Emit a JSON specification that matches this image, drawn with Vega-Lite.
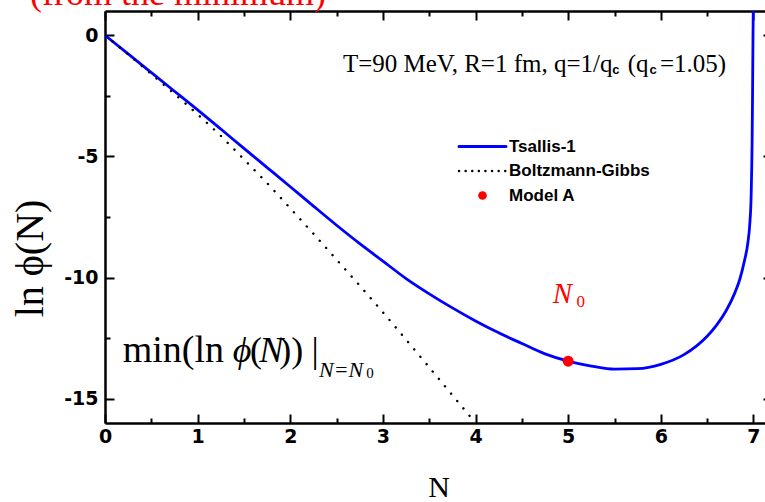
{
  "$schema": "https://vega.github.io/schema/vega-lite/v6.json",
  "width": 667,
  "height": 412,
  "autosize": {"type": "none"},
  "padding": {"left": 105, "top": 11, "right": 0, "bottom": 79},
  "background": "white",
  "config": {
    "view": {"stroke": null},
    "axis": {
      "domainColor": "black",
      "domainWidth": 2.5,
      "tickColor": "black",
      "tickWidth": 2,
      "grid": false,
      "labelFont": "DejaVu Sans",
      "labelFontWeight": "bold",
      "labelFontSize": 19,
      "labelColor": "black",
      "titleFont": "Liberation Serif",
      "titleFontWeight": "normal",
      "titleFontSize": 30,
      "titleColor": "black"
    },
    "legend": {
      "orient": "none",
      "legendX": 369,
      "legendY": 127,
      "padding": 0,
      "title": null,
      "labelFont": "Liberation Sans",
      "labelFontWeight": "bold",
      "labelFontSize": 17,
      "labelColor": "black",
      "labelOffset": 18,
      "symbolType": "stroke",
      "symbolSize": 2209,
      "rowPadding": 6.5
    }
  },
  "datasets": {
    "curves": [
      {"series": "Tsallis-1", "N": 0, "lnphi": 0},
      {"series": "Tsallis-1", "N": 0.25, "lnphi": -0.77},
      {"series": "Tsallis-1", "N": 0.5, "lnphi": -1.54},
      {"series": "Tsallis-1", "N": 0.75, "lnphi": -2.31},
      {"series": "Tsallis-1", "N": 1.0, "lnphi": -3.08},
      {"series": "Tsallis-1", "N": 1.25, "lnphi": -3.87},
      {"series": "Tsallis-1", "N": 1.5, "lnphi": -4.67},
      {"series": "Tsallis-1", "N": 1.75, "lnphi": -5.46},
      {"series": "Tsallis-1", "N": 2.0, "lnphi": -6.25},
      {"series": "Tsallis-1", "N": 2.25, "lnphi": -7.05},
      {"series": "Tsallis-1", "N": 2.5, "lnphi": -7.84},
      {"series": "Tsallis-1", "N": 2.75, "lnphi": -8.6},
      {"series": "Tsallis-1", "N": 3.0, "lnphi": -9.32},
      {"series": "Tsallis-1", "N": 3.25, "lnphi": -10.04},
      {"series": "Tsallis-1", "N": 3.5, "lnphi": -10.67},
      {"series": "Tsallis-1", "N": 3.75, "lnphi": -11.25},
      {"series": "Tsallis-1", "N": 4.0, "lnphi": -11.79},
      {"series": "Tsallis-1", "N": 4.25, "lnphi": -12.28},
      {"series": "Tsallis-1", "N": 4.5, "lnphi": -12.72},
      {"series": "Tsallis-1", "N": 4.75, "lnphi": -13.15},
      {"series": "Tsallis-1", "N": 5.0, "lnphi": -13.45},
      {"series": "Tsallis-1", "N": 5.25, "lnphi": -13.65},
      {"series": "Tsallis-1", "N": 5.5, "lnphi": -13.78},
      {"series": "Tsallis-1", "N": 5.75, "lnphi": -13.76},
      {"series": "Tsallis-1", "N": 6.0, "lnphi": -13.58},
      {"series": "Tsallis-1", "N": 6.25, "lnphi": -13.18},
      {"series": "Tsallis-1", "N": 6.5, "lnphi": -12.42},
      {"series": "Tsallis-1", "N": 6.6, "lnphi": -11.97},
      {"series": "Tsallis-1", "N": 6.7, "lnphi": -11.4},
      {"series": "Tsallis-1", "N": 6.8, "lnphi": -10.62},
      {"series": "Tsallis-1", "N": 6.85, "lnphi": -10.1},
      {"series": "Tsallis-1", "N": 6.9, "lnphi": -9.35},
      {"series": "Tsallis-1", "N": 6.94, "lnphi": -8.55},
      {"series": "Tsallis-1", "N": 6.96, "lnphi": -7.8},
      {"series": "Tsallis-1", "N": 6.975, "lnphi": -6.6},
      {"series": "Tsallis-1", "N": 6.985, "lnphi": -4.5},
      {"series": "Tsallis-1", "N": 6.99, "lnphi": -2.5},
      {"series": "Tsallis-1", "N": 6.995, "lnphi": 0},
      {"series": "Tsallis-1", "N": 7.0, "lnphi": 2},
      {"series": "Boltzmann-Gibbs", "N": 0, "lnphi": 0},
      {"series": "Boltzmann-Gibbs", "N": 0.25, "lnphi": -0.79},
      {"series": "Boltzmann-Gibbs", "N": 0.5, "lnphi": -1.6},
      {"series": "Boltzmann-Gibbs", "N": 0.75, "lnphi": -2.42},
      {"series": "Boltzmann-Gibbs", "N": 1.0, "lnphi": -3.26},
      {"series": "Boltzmann-Gibbs", "N": 1.25, "lnphi": -4.15},
      {"series": "Boltzmann-Gibbs", "N": 1.5, "lnphi": -5.12},
      {"series": "Boltzmann-Gibbs", "N": 1.75, "lnphi": -6.1},
      {"series": "Boltzmann-Gibbs", "N": 2.0, "lnphi": -7.14},
      {"series": "Boltzmann-Gibbs", "N": 2.25, "lnphi": -8.19},
      {"series": "Boltzmann-Gibbs", "N": 2.5, "lnphi": -9.26},
      {"series": "Boltzmann-Gibbs", "N": 2.75, "lnphi": -10.33},
      {"series": "Boltzmann-Gibbs", "N": 3.0, "lnphi": -11.43},
      {"series": "Boltzmann-Gibbs", "N": 3.25, "lnphi": -12.56},
      {"series": "Boltzmann-Gibbs", "N": 3.5, "lnphi": -13.7},
      {"series": "Boltzmann-Gibbs", "N": 3.75, "lnphi": -14.85},
      {"series": "Boltzmann-Gibbs", "N": 4.0, "lnphi": -16.0},
      {"series": "Model A", "N": 5.0, "lnphi": -13.45}
    ]
  },
  "layer": [
    {
      "data": {"name": "curves"},
      "transform": [{"filter": "datum.series === 'Tsallis-1'"}],
      "mark": {"type": "line", "strokeWidth": 2.8, "clip": true, "interpolate": "monotone"},
      "encoding": {
        "x": {"field": "N", "type": "quantitative",
          "scale": {"domain": [0, 7.2], "nice": false, "zero": false},
          "axis": {"orient": "bottom", "title": "N", "values": [0,0.5,1,1.5,2,2.5,3,3.5,4,4.5,5,5.5,6,6.5,7],
            "labelExpr": "datum.value % 1 === 0 ? '' + datum.value : ''",
            "tickSize": {"condition": {"test": "datum.value % 1 !== 0", "value": -5}, "value": -9},
            "labelPadding": 13, "titlePadding": 26, "labelFlush": false}},
        "y": {"field": "lnphi", "type": "quantitative",
          "scale": {"domain": [-16, 1], "nice": false, "zero": false},
          "axis": {"orient": "left", "title": "ln ϕ(N)", "values": [-15,-12.5,-10,-7.5,-5,-2.5,0],
            "labelExpr": "datum.value % 5 === 0 ? (datum.value < 0 ? '-' + abs(datum.value) : '' + abs(datum.value)) : ''",
            "tickSize": {"condition": {"test": "datum.value % 5 !== 0", "value": -5}, "value": -9},
            "labelPadding": 16, "titleFontSize": 40, "titleX": -63, "titleY": 247, "titleBaseline": "alphabetic", "titleAlign": "center", "labelFlush": false}},
        "color": {"field": "series", "type": "nominal",
          "scale": {"domain": ["Tsallis-1", "Boltzmann-Gibbs", "Model A"], "range": ["#0000ff", "#000000", "#ff0000"]},
          "legend": {
            "encode": {"symbols": {"update": {
              "shape": {"signal": "datum.value === 'Model A' ? 'circle' : 'stroke'"},
              "size": {"signal": "datum.value === 'Model A' ? 75 : 2209"},
              "strokeDash": {"signal": "datum.value === 'Boltzmann-Gibbs' ? [0.1, 6.5] : [1, 0]"},
              "strokeCap": {"value": "round"},
              "strokeWidth": {"signal": "datum.value === 'Model A' ? 0 : (datum.value === 'Boltzmann-Gibbs' ? 2.4 : 3)"},
              "fill": {"signal": "datum.value === 'Model A' ? '#ff0000' : 'transparent'"},
              "stroke": {"signal": "datum.value === 'Tsallis-1' ? '#0000ff' : (datum.value === 'Model A' ? '#ff0000' : '#000000')"},
              "opacity": {"value": 1}
            }}}
          }}
      }
    },
    {
      "data": {"name": "curves"},
      "transform": [{"filter": "datum.series === 'Boltzmann-Gibbs'"}],
      "mark": {"type": "line", "strokeWidth": 2.4, "strokeDash": [0.1, 9.5], "strokeCap": "round", "clip": true},
      "encoding": {
        "x": {"field": "N", "type": "quantitative",
          "axis": {"orient": "top", "title": null, "labels": false, "values": [0,0.5,1,1.5,2,2.5,3,3.5,4,4.5,5,5.5,6,6.5,7],
            "tickSize": {"condition": {"test": "datum.value % 1 !== 0", "value": -5}, "value": -9}}},
        "y": {"field": "lnphi", "type": "quantitative",
          "axis": {"orient": "right", "title": null, "labels": false, "values": [-15,-12.5,-10,-7.5,-5,-2.5,0],
            "tickSize": {"condition": {"test": "datum.value % 5 !== 0", "value": -5}, "value": -9}}},
        "color": {"field": "series", "type": "nominal"}
      }
    },
    {
      "data": {"name": "curves"},
      "transform": [{"filter": "datum.series === 'Model A'"}],
      "mark": {"type": "point", "filled": true, "size": 120, "opacity": 1},
      "encoding": {
        "x": {"field": "N", "type": "quantitative", "axis": null},
        "y": {"field": "lnphi", "type": "quantitative", "axis": null},
        "color": {"field": "series", "type": "nominal"}
      }
    },
    {
      "data": {"values": [
        {"text": "min(ln", "N": 0.191, "lnphi": -13.47}
      ]},
      "mark": {"type": "text", "font": "Liberation Serif", "fontSize": 38, "align": "left", "baseline": "alphabetic", "color": "black"},
      "encoding": {
        "x": {"field": "N", "type": "quantitative", "axis": null},
        "y": {"field": "lnphi", "type": "quantitative", "axis": null},
        "text": {"field": "text"}
      }
    },
    {
      "data": {"values": [
        {"text": "(", "N": 1.565, "lnphi": -13.47},
        {"text": "))", "N": 1.88, "lnphi": -13.47},
        {"text": "|", "N": 2.23, "lnphi": -13.47}
      ]},
      "mark": {"type": "text", "font": "Liberation Serif", "fontSize": 36, "align": "left", "baseline": "alphabetic", "color": "black"},
      "encoding": {
        "x": {"field": "N", "type": "quantitative", "axis": null},
        "y": {"field": "lnphi", "type": "quantitative", "axis": null},
        "text": {"field": "text"}
      }
    },
    {
      "data": {"values": [
        {"text": "ϕ", "N": 1.38, "lnphi": -13.47},
        {"text": "N", "N": 1.665, "lnphi": -13.47}
      ]},
      "mark": {"type": "text", "font": "Liberation Serif", "fontStyle": "italic", "fontSize": 36, "align": "left", "baseline": "alphabetic", "color": "black"},
      "encoding": {
        "x": {"field": "N", "type": "quantitative", "axis": null},
        "y": {"field": "lnphi", "type": "quantitative", "axis": null},
        "text": {"field": "text"}
      }
    },
    {
      "data": {"values": [
        {"text": "N=N", "N": 2.31, "lnphi": -14.09}
      ]},
      "mark": {"type": "text", "font": "Liberation Serif", "fontStyle": "italic", "fontSize": 22, "align": "left", "baseline": "alphabetic", "color": "black"},
      "encoding": {
        "x": {"field": "N", "type": "quantitative", "axis": null},
        "y": {"field": "lnphi", "type": "quantitative", "axis": null},
        "text": {"field": "text"}
      }
    },
    {
      "data": {"values": [
        {"text": "0", "N": 2.82, "lnphi": -14.14}
      ]},
      "mark": {"type": "text", "font": "Liberation Serif", "fontSize": 15, "align": "left", "baseline": "alphabetic", "color": "black"},
      "encoding": {
        "x": {"field": "N", "type": "quantitative", "axis": null},
        "y": {"field": "lnphi", "type": "quantitative", "axis": null},
        "text": {"field": "text"}
      }
    },
    {
      "data": {"values": [
        {"text": "N", "N": 4.833, "lnphi": -11.04}
      ]},
      "mark": {"type": "text", "font": "Liberation Serif", "fontStyle": "italic", "fontSize": 29, "align": "left", "baseline": "alphabetic", "color": "#ff0000"},
      "encoding": {
        "x": {"field": "N", "type": "quantitative", "axis": null},
        "y": {"field": "lnphi", "type": "quantitative", "axis": null},
        "text": {"field": "text"}
      }
    },
    {
      "data": {"values": [
        {"text": "0", "N": 5.09, "lnphi": -11.23},
        {"text": "(from the minimum)", "N": -0.809, "lnphi": 1.237}
      ]},
      "mark": {"type": "text", "font": "Liberation Serif", "align": "left", "baseline": "alphabetic", "color": "#ff0000"},
      "encoding": {
        "x": {"field": "N", "type": "quantitative", "axis": null},
        "y": {"field": "lnphi", "type": "quantitative", "axis": null},
        "text": {"field": "text"},
        "size": {"field": "text", "type": "nominal", "legend": null,
          "scale": {"domain": ["0", "(from the minimum)"], "range": [17, 36]}}
      }
    },
    {
      "data": {"values": [
        {"text": "T=90 MeV, R=1 fm, q=1/q", "N": 2.568, "lnphi": -1.513},
        {"text": "(q", "N": 5.642, "lnphi": -1.513},
        {"text": "=1.05)", "N": 5.99, "lnphi": -1.513}
      ]},
      "mark": {"type": "text", "font": "Liberation Serif", "fontSize": 25, "align": "left", "baseline": "alphabetic", "color": "black"},
      "encoding": {
        "x": {"field": "N", "type": "quantitative", "axis": null},
        "y": {"field": "lnphi", "type": "quantitative", "axis": null},
        "text": {"field": "text"}
      }
    },
    {
      "data": {"values": [
        {"text": "c", "N": 5.475, "lnphi": -1.62},
        {"text": "c", "N": 5.879, "lnphi": -1.62}
      ]},
      "mark": {"type": "text", "font": "Liberation Sans", "fontWeight": "bold", "fontSize": 13, "align": "left", "baseline": "alphabetic", "color": "black"},
      "encoding": {
        "x": {"field": "N", "type": "quantitative", "axis": null},
        "y": {"field": "lnphi", "type": "quantitative", "axis": null},
        "text": {"field": "text"}
      }
    }
  ],
  "resolve": {"axis": {"x": "independent", "y": "independent"}}
}
